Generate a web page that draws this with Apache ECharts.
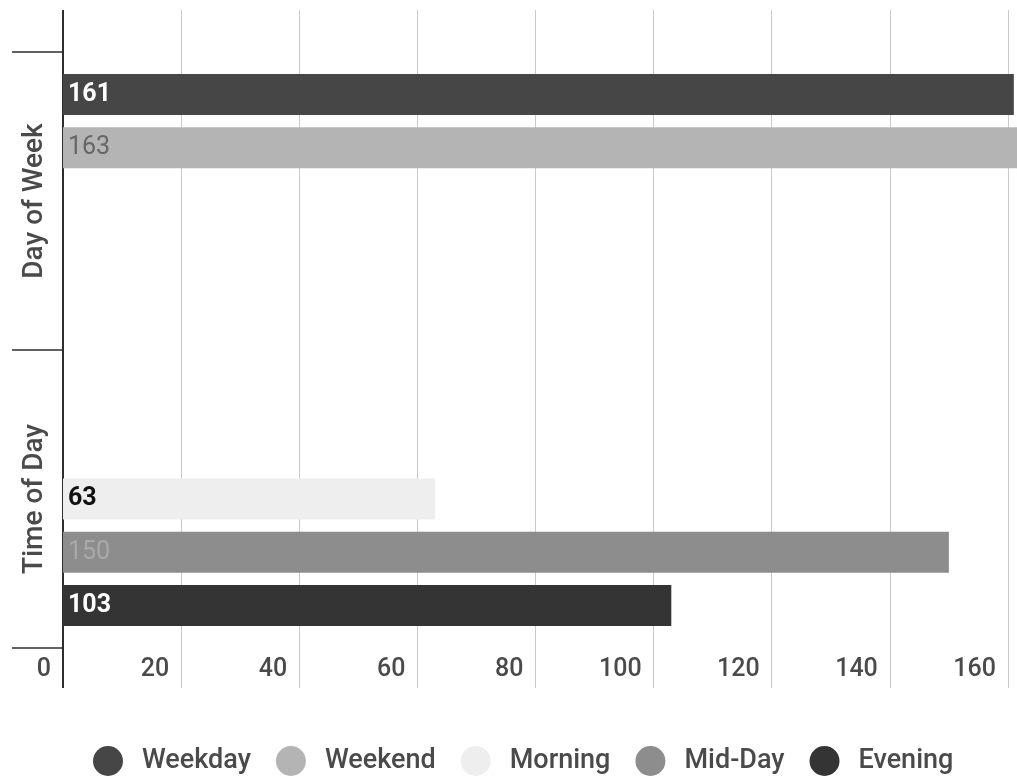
<!DOCTYPE html>
<html>
<head>
<meta charset="utf-8">
<script src="https://cdn.jsdelivr.net/npm/echarts@6/dist/echarts.min.js"></script>
<style>
  html, body { margin: 0; padding: 0; background: #ffffff; overflow: hidden; }
  #chart { width: 1090px; height: 778px; }
</style>
</head>
<body>
<div id="chart"></div>
<script>
// Groups shown on the category axis (top to bottom)
const categories = ['Day of Week', 'Time of Day'];

// One series per segment; each segment only has a value in its own group
const weekday = [161, null];
const weekend = [163, null];
const morning = [null, 63];
const midDay  = [null, 150];
const evening = [null, 103];

const seriesNames = ['Weekday', 'Weekend', 'Morning', 'Mid-Day', 'Evening'];
const seriesData = [weekday, weekend, morning, midDay, evening];

// Value axis range and step
const valueMin = 0;
const valueMax = 170;
const valueStep = 20;

const barColors   = ['#464646', '#b4b4b4', '#eeeeee', '#8d8d8d', '#343434'];
const labelColors = ['#ffffff', '#666666', '#111111', '#a9a9a9', '#ffffff'];
const labelWeights = ['bold', 'normal', 'bold', 'normal', 'bold'];

const FONT = 'Roboto, "Noto Sans", sans-serif';
const GRID_COLOR = '#c9c9c9';
const AXIS_COLOR = '#2e2e2e';
const TEXT_COLOR = '#4a4a4a';

const chart = echarts.init(document.getElementById('chart'), null, { renderer: 'canvas' });

const series = seriesNames.map((name, i) => ({
  name: name,
  type: 'bar',
  xAxisIndex: 0,
  yAxisIndex: 0,
  data: seriesData[i],
  barWidth: 41,
  barGap: '30%',
  itemStyle: { color: barColors[i] },
  label: {
    show: true,
    position: 'insideLeft',
    distance: 5,
    color: labelColors[i],
    fontFamily: FONT,
    fontSize: 25,
    fontWeight: labelWeights[i]
  },
  emphasis: { disabled: true },
  animation: false
}));

// Secondary value axes only draw the line stubs above and below the plot
function stubAxis(position, step, color, width, length) {
  return {
    type: 'value',
    position: position,
    min: valueMin,
    max: valueMax,
    interval: step,
    axisLine: { show: false },
    axisLabel: { show: false },
    splitLine: { show: false },
    axisTick: { show: true, length: length, lineStyle: { color: color, width: width } }
  };
}

chart.setOption({
  backgroundColor: '#ffffff',
  animation: false,
  textStyle: { fontFamily: FONT },
  grid: { left: 63, top: 52, bottom: 130, width: 1004, containLabel: false },
  legend: {
    data: seriesNames,
    left: 88,
    top: 741,
    icon: 'circle',
    itemWidth: 30,
    itemHeight: 30,
    itemGap: 25,
    textStyle: { fontFamily: FONT, fontSize: 27, fontWeight: 500, color: TEXT_COLOR, padding: [0, 0, 0, 14] }
  },
  xAxis: [
    {
      type: 'value',
      position: 'bottom',
      min: valueMin,
      max: valueMax,
      interval: valueStep,
      axisLine: { show: false },
      axisTick: { show: true, length: 40, lineStyle: { color: GRID_COLOR, width: 1 } },
      splitLine: { show: true, lineStyle: { color: GRID_COLOR, width: 1 } },
      axisLabel: {
        show: true,
        showMaxLabel: false,
        align: 'right',
        padding: [0, 12, 0, 0],
        margin: 9,
        fontFamily: FONT,
        fontSize: 25,
        fontWeight: 500,
        color: TEXT_COLOR
      }
    },
    stubAxis('top', valueStep, GRID_COLOR, 1, 42),
    stubAxis('bottom', valueMax, AXIS_COLOR, 2, 40),
    stubAxis('top', valueMax, AXIS_COLOR, 2, 42)
  ],
  yAxis: {
    type: 'category',
    data: categories,
    inverse: true,
    axisLine: { show: true, lineStyle: { color: AXIS_COLOR, width: 2 } },
    axisTick: { show: true, length: 51, lineStyle: { color: AXIS_COLOR, width: 1.5 } },
    axisLabel: {
      rotate: 90,
      margin: 14,
      fontFamily: FONT,
      fontSize: 28,
      fontWeight: 500,
      color: TEXT_COLOR
    },
    splitLine: { show: false }
  },
  series: series
});
</script>
</body>
</html>
